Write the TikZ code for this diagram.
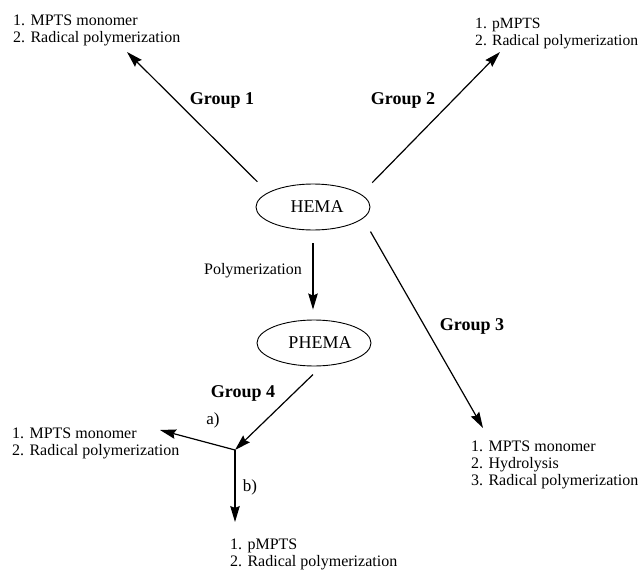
\documentclass[tikz,border=0pt]{standalone}
\usepackage{fontspec}
\setmainfont{Liberation Serif}
\usetikzlibrary{arrows.meta,shapes.geometric}

\begin{document}
\begin{tikzpicture}[
    x=1pt, y=-1pt,
    >={Stealth[length=16pt,width=9.5pt,inset=2pt]},
    arr/.style={->, line width=1.2pt},
    mol/.style={
        draw,
        ellipse,
        line width=0.9pt,
        minimum width=114pt,
        minimum height=46pt,
        inner sep=0pt,
        font=\fontsize{18}{20}\selectfont
    },
    steps/.style={
        anchor=north west,
        align=left,
        inner sep=0pt,
        font=\fontsize{16}{17}\selectfont
    },
    grp/.style={font=\fontsize{18}{20}\selectfont\bfseries},
    sub/.style={font=\fontsize{17}{19}\selectfont}
]
\useasboundingbox (0,0) rectangle (642,575);

% monomers
\node[mol] (hema) at (313,207) {\hspace{8pt}HEMA};
\node[mol] (phema) at (314,343) {\hspace{12pt}PHEMA};

% routes
\node[steps] (mono1) at (13,15) {1. MPTS monomer\\2. Radical polymerization};
\node[steps, font=\fontsize{15.6}{17}\selectfont] (pm2) at (475,18) {1. pMPTS\\2. Radical polymerization};
\node[steps] (hyd3) at (471,441) {1. MPTS monomer\\2. Hydrolysis\\3. Radical polymerization};
\node[steps] (mono4a) at (12,428) {1. MPTS monomer\\2. Radical polymerization};
\node[steps] (pm4b) at (230,539) {1. pMPTS\\2. Radical polymerization};

\coordinate (t1) at (127,52);
\coordinate (t2) at (500,52);
\coordinate (t3) at (483,428);
\coordinate (jn) at (235,450);
\coordinate (ta) at (160,430);
\coordinate (tb) at (235,522);

\draw[arr, shorten <=15pt] (hema.162.7) -- (t1);
\draw[arr, shorten <=16pt] (hema.15.5) -- (t2);
\draw[arr, shorten <=15pt] (hema.-13.3) -- (t3);
\draw[arr, shorten <=13pt, shorten >=10pt] (hema.south) -- (hema.south |- phema.north);
\draw[arr, shorten <=12pt] (phema.-72.7) -- (jn);
\draw[arr] (jn) -- (ta);
\draw[arr] (jn) -- (tb);

% labels
\node[grp] (lab1) at (222,100) {Group 1};
\node[grp] (lab2) at (403,100) {Group 2};
\node[grp] (lab3) at (472,326) {Group 3};
\node[grp] (lab4) at (243,393) {Group 4};
\node[font=\fontsize{16}{18}\selectfont] (poly) at (253,271) {Polymerization};
\node[sub] (suba) at (213,420) {a)};
\node[sub] (subb) at (250,487) {b)};

\end{tikzpicture}
\end{document}
